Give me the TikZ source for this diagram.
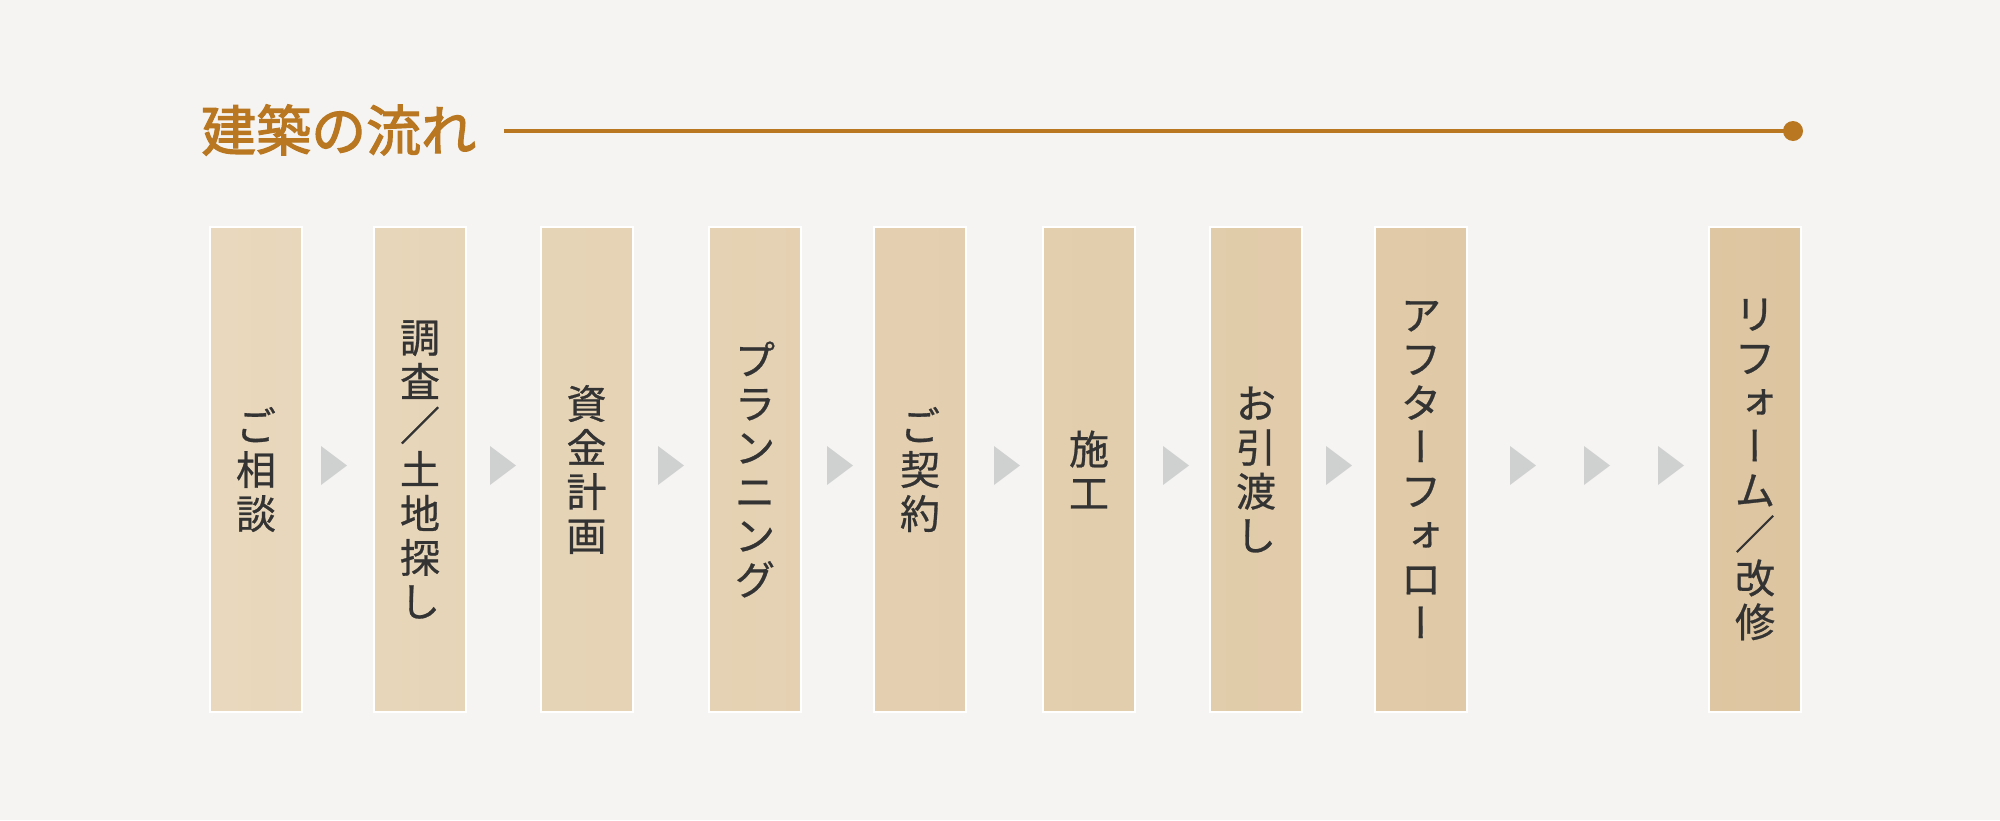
\documentclass[tikz,border=0pt]{standalone}
\usepackage{fontspec}
\setmainfont[FakeBold=0.7]{Noto Sans CJK JP}
\newfontfamily\jpv[RawFeature=+vert,FakeBold=0.7]{Noto Sans CJK JP}
\newfontfamily\titlefont[FakeBold=2.2]{Noto Sans CJK JP}
\definecolor{bg}{HTML}{F5F4F2}
\definecolor{bA}{HTML}{E9D8BD}
\definecolor{bB}{HTML}{DDC5A0}
\definecolor{gold}{HTML}{B87720}
\definecolor{ink}{HTML}{333333}
\definecolor{arrowgray}{HTML}{CFD1D0}
\newcommand\flowarrow[1]{\fill[arr] (#1) ++(-13,-19.5) -- ++(26,19.5) -- ++(-26,19.5) -- cycle;}
\begin{document}
\begin{tikzpicture}[x=1pt,y=-1pt,
  flowbox/.style 2 args={draw=white, line width=2pt, minimum width=92pt, minimum height=485pt,
    inner sep=0pt, left color=bB!#1!bA, right color=bB!#2!bA, text=ink,
    font=\fontsize{40}{44}\selectfont, align=center},
  arr/.style={fill=arrowgray},
  titlestyle/.style={text=gold, inner sep=0pt, anchor=base west, font=\titlefont\fontsize{55}{60}\selectfont}]
\fill[bg] (0,0) rectangle (2000,820);
\useasboundingbox (0,0) rectangle (2000,820);
% title
\node[titlestyle] (title) at (201,151) {建築の流れ};
\coordinate (ls) at (504,131);
\coordinate (le) at (1793,131);
\draw[gold, line width=3.5pt] (ls) -- (le);
\fill[gold] (le) circle (10pt);
% boxes
\node[flowbox={0}{5.9}]     (b1) at (256,469.5)   {ご\\相\\談};
\node[flowbox={10.3}{16.2}] (b2) at (420,469.5)   {調\\査\\／\\土\\地\\探\\し};
\node[flowbox={20.8}{26.6}] (b3) at (586.5,469.5) {資\\金\\計\\画};
\node[flowbox={31.3}{37.2}] (b4) at (755,469.5)   {プ\\ラ\\ン\\ニ\\ン\\グ};
\node[flowbox={41.7}{47.6}] (b5) at (920,469.5)   {ご\\契\\約};
\node[flowbox={52.3}{58.2}] (b6) at (1089,469.5)  {施\\工};
\node[flowbox={62.8}{68.7}] (b7) at (1256,469.5)  {お\\引\\渡\\し};
\node[flowbox={73.1}{79.0}] (b8) at (1421,469.5)  {ア\\フ\\タ\\{\jpv ー}\\フ\\{\jpv ォ}\\ロ\\{\jpv ー}};
\node[flowbox={94.1}{100}]  (b9) at (1755,469.5)  {リ\\フ\\{\jpv ォ}\\{\jpv ー}\\ム\\／\\改\\修};
% arrows
\coordinate (a1) at (334,465.5);
\coordinate (a2) at (503,465.5);
\coordinate (a3) at (671,465.5);
\coordinate (a4) at (840,465.5);
\coordinate (a5) at (1007,465.5);
\coordinate (a6) at (1176,465.5);
\coordinate (a7) at (1339,465.5);
\coordinate (a8) at (1523,465.5);
\coordinate (a9) at (1597,465.5);
\coordinate (a10) at (1671,465.5);
\flowarrow{a1}\flowarrow{a2}\flowarrow{a3}\flowarrow{a4}\flowarrow{a5}
\flowarrow{a6}\flowarrow{a7}\flowarrow{a8}\flowarrow{a9}\flowarrow{a10}
\end{tikzpicture}
\end{document}
